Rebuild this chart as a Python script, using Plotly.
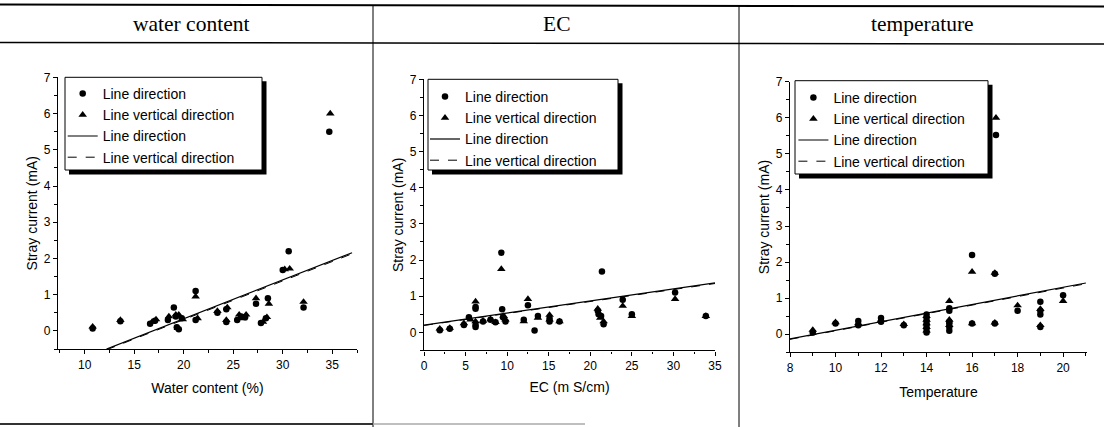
import plotly.graph_objects as go

W, H = 1104, 427

# ---------------- data ----------------
panel_titles = ["water content", "EC", "temperature"]
x_titles = ["Water content (%)", "EC (m S/cm)", "Temperature"]
y_title = "Stray current (mA)"
series_names = ["Line direction", "Line vertical direction"]
fit_names = ["Line direction", "Line vertical direction"]

# Panel 1: water content
wc_line_x = [10.8, 13.6, 16.6, 17.1, 18.4, 19.0, 19.2, 19.3, 19.5, 19.8, 21.2, 21.2, 23.4, 24.3, 24.3,
             25.4, 25.8, 26.2, 27.3, 27.8, 28.3, 28.5, 30.0, 30.6, 32.1, 34.7]
wc_line_y = [0.07, 0.27, 0.20, 0.28, 0.30, 0.65, 0.40, 0.10, 0.05, 0.35, 1.10, 0.30, 0.50, 0.60, 0.25,
             0.30, 0.40, 0.38, 0.75, 0.22, 0.35, 0.90, 1.68, 2.20, 0.65, 5.50]
wc_vert_x = [10.8, 13.6, 16.8, 17.2, 18.5, 19.2, 19.5, 19.4, 19.9, 21.2, 21.4, 23.4, 24.4, 24.3, 25.6,
             26.0, 26.3, 27.3, 28.0, 28.4, 28.6, 30.2, 30.7, 32.1, 34.8]
wc_vert_y = [0.12, 0.30, 0.25, 0.32, 0.40, 0.45, 0.45, 0.08, 0.32, 0.95, 0.35, 0.55, 0.65, 0.30, 0.45,
             0.35, 0.45, 0.90, 0.25, 0.38, 0.75, 1.70, 1.72, 0.80, 6.00]
wc_fit_x = [12.2, 37.0]
wc_fit1_y = [-0.50, 2.16]
wc_fit2_y = [-0.52, 2.13]

# Panel 2: EC
ec_line_x = [1.9, 3.1, 4.8, 5.4, 6.2, 6.2, 6.2, 6.2, 7.1, 8.0, 8.6, 9.3, 9.4, 9.5, 9.8, 12.0, 12.5,
             13.3, 13.7, 15.1, 15.1, 16.3, 20.9, 21.0, 21.3, 21.4, 21.6, 23.9, 25.0, 30.2, 33.9]
ec_line_y = [0.06, 0.10, 0.20, 0.42, 0.70, 0.65, 0.20, 0.15, 0.30, 0.35, 0.28, 2.20, 0.64, 0.42, 0.30,
             0.35, 0.75, 0.05, 0.45, 0.38, 0.30, 0.30, 0.60, 0.50, 0.45, 1.68, 0.22, 0.90, 0.50, 1.10, 0.45]
ec_vert_x = [1.9, 3.1, 4.8, 5.6, 6.2, 6.2, 7.1, 8.0, 8.6, 9.3, 9.6, 9.8, 12.0, 12.5, 13.7, 15.1, 15.1,
             16.3, 20.9, 21.2, 21.6, 23.9, 25.0, 30.2, 33.9]
ec_vert_y = [0.10, 0.12, 0.25, 0.35, 0.85, 0.30, 0.32, 0.36, 0.28, 1.75, 0.45, 0.35, 0.30, 0.92, 0.40,
             0.48, 0.35, 0.30, 0.65, 0.40, 0.30, 0.73, 0.45, 0.92, 0.45]
ec_fit_x = [0.0, 35.0]
ec_fit1_y = [0.20, 1.37]
ec_fit2_y = [0.19, 1.35]

# Panel 3: temperature
t_line_x = [9, 10, 11, 11, 12, 12, 13, 14, 14, 14, 14, 14, 14, 15, 15, 15, 15, 15, 15, 16, 16, 17, 17,
            17.05, 18, 19, 19, 19, 19, 20]
t_line_y = [0.05, 0.30, 0.37, 0.25, 0.45, 0.35, 0.25, 0.05, 0.15, 0.25, 0.35, 0.45, 0.55, 0.72, 0.65,
            0.35, 0.30, 0.20, 0.10, 2.20, 0.30, 1.68, 0.30, 5.52, 0.65, 0.90, 0.65, 0.55, 0.20, 1.08]
t_vert_x = [9, 10, 11, 12, 13, 14, 14, 14, 14, 14, 15, 15, 15, 16, 16, 17, 17, 17.05, 18, 19, 19, 20]
t_vert_y = [0.12, 0.33, 0.30, 0.40, 0.28, 0.10, 0.20, 0.30, 0.40, 0.50, 0.92, 0.40, 0.25, 1.73, 0.30,
            1.70, 0.32, 6.00, 0.80, 0.70, 0.25, 0.92]
t_fit_x = [8.0, 21.0]
t_fit1_y = [-0.13, 1.42]
t_fit2_y = [-0.14, 1.40]

# ---------------- layout helpers ----------------
def px_x(p):
    return p / W

def px_y(p):
    return 1 - p / H

FONT = "Liberation Sans, Arial, sans-serif"
SERIF = "Liberation Serif, Times New Roman, serif"

panels = [
    dict(lx=wc_line_x, ly=wc_line_y, vx=wc_vert_x, vy=wc_vert_y, fx=wc_fit_x, f1=wc_fit1_y, f2=wc_fit2_y,
         xr=[7.3, 37.5], dtick=5, minor=2.5, xd=(58, 357), yd=(77.3, 349.1),
         box=(65, 77.3, 262, 170), legpos=(62.7, 78), standoff=12),
    dict(lx=ec_line_x, ly=ec_line_y, vx=ec_vert_x, vy=ec_vert_y, fx=ec_fit_x, f1=ec_fit1_y, f2=ec_fit2_y,
         xr=[0, 35], dtick=5, minor=2.5, xd=(424, 715), yd=(79.3, 350.4),
         box=(428, 79.3, 618, 170), legpos=(425, 81), standoff=10),
    dict(lx=t_line_x, ly=t_line_y, vx=t_vert_x, vy=t_vert_y, fx=t_fit_x, f1=t_fit1_y, f2=t_fit2_y,
         xr=[8, 21.05], dtick=2, minor=1, xd=(790, 1087), yd=(81.7, 352.3),
         box=(795, 80.7, 988, 174), legpos=(793.4, 82), standoff=13),
]

fig = go.Figure()
shapes = []
annotations = []
layout = {}

for i, p in enumerate(panels):
    n = i + 1
    xa = "x" if n == 1 else f"x{n}"
    ya = "y" if n == 1 else f"y{n}"
    lg = "legend" if n == 1 else f"legend{n}"
    fig.add_trace(go.Scatter(x=p["lx"], y=p["ly"], mode="markers", name=series_names[0],
                             marker=dict(symbol="circle", size=6.5, color="black"),
                             xaxis=xa, yaxis=ya, legend=lg, cliponaxis=False))
    fig.add_trace(go.Scatter(x=p["vx"], y=p["vy"], mode="markers", name=series_names[1],
                             marker=dict(symbol="triangle-up", size=7.5, color="black"),
                             xaxis=xa, yaxis=ya, legend=lg, cliponaxis=False))
    fig.add_trace(go.Scatter(x=p["fx"], y=p["f1"], mode="lines", name=fit_names[0],
                             line=dict(color="black", width=1.2), xaxis=xa, yaxis=ya, legend=lg))
    fig.add_trace(go.Scatter(x=p["fx"], y=p["f2"], mode="lines", name=fit_names[1],
                             line=dict(color="black", width=1, dash="dash"), xaxis=xa, yaxis=ya, legend=lg))
    xkey = "xaxis" if n == 1 else f"xaxis{n}"
    ykey = "yaxis" if n == 1 else f"yaxis{n}"
    layout[xkey] = dict(
        domain=[px_x(p["xd"][0]), px_x(p["xd"][1])], anchor=ya, range=p["xr"], automargin=False,
        tickmode="linear", tick0=0, dtick=p["dtick"], ticks="outside", ticklen=4,
        tickwidth=1, tickcolor="black", showline=True, linecolor="black", linewidth=1.2,
        showgrid=False, zeroline=False, tickfont=dict(size=12, family=FONT, color="black"),
        minor=dict(dtick=p["minor"], ticks="outside", ticklen=2.5, tickcolor="black", showgrid=False),
        title=dict(text=x_titles[i], font=dict(size=14, family=FONT, color="black"),
                   standoff=p["standoff"]),
    )
    layout[ykey] = dict(
        domain=[px_y(p["yd"][1]), px_y(p["yd"][0])], anchor=xa, range=[-0.5, 7], automargin=False,
        tickmode="linear", tick0=0, dtick=1, ticks="outside", ticklen=4, tickwidth=1,
        tickcolor="black", showline=True, linecolor="black", linewidth=1.2, showgrid=False,
        zeroline=False, tickfont=dict(size=12, family=FONT, color="black"),
        minor=dict(dtick=0.5, ticks="outside", ticklen=2.5, tickcolor="black", showgrid=False),
        title=dict(text=y_title, font=dict(size=14, family=FONT, color="black"), standoff=2),
    )
    lx, ly = p["legpos"]
    layout[lg] = dict(
        x=px_x(lx), y=px_y(ly), xanchor="left", yanchor="top", bgcolor="rgba(0,0,0,0)",
        borderwidth=0, font=dict(size=14, family=FONT, color="black"),
        tracegroupgap=0, itemwidth=30,
    )
    # legend frame with drop shadow
    x0, y0, x1, y1 = p["box"]
    shapes.append(dict(type="rect", xref="paper", yref="paper", layer="above",
                       x0=px_x(x0 + 4), x1=px_x(x1 + 4.5), y0=px_y(y1 + 4.5), y1=px_y(y0 + 4),
                       fillcolor="black", line=dict(width=0)))
    shapes.append(dict(type="rect", xref="paper", yref="paper", layer="above",
                       x0=px_x(x0), x1=px_x(x1), y0=px_y(y1), y1=px_y(y0),
                       fillcolor="white", line=dict(color="black", width=1)))

# table frame lines
shapes += [
    dict(type="line", xref="paper", yref="paper", x0=0, x1=1, y0=px_y(4.5), y1=px_y(6.5),
         line=dict(color="black", width=2)),
    dict(type="line", xref="paper", yref="paper", x0=0, x1=1, y0=px_y(42.5), y1=px_y(44),
         line=dict(color="black", width=1.5)),
    dict(type="line", xref="paper", yref="paper", x0=px_x(373), x1=px_x(373), y0=px_y(6), y1=0,
         line=dict(color="black", width=1)),
    dict(type="line", xref="paper", yref="paper", x0=px_x(739), x1=px_x(739), y0=px_y(6), y1=0,
         line=dict(color="black", width=1)),
    dict(type="line", xref="paper", yref="paper", x0=0, x1=px_x(373), y0=px_y(424), y1=px_y(424),
         line=dict(color="#333333", width=2)),
    dict(type="line", xref="paper", yref="paper", x0=px_x(373), x1=px_x(585), y0=px_y(424), y1=px_y(424),
         line=dict(color="#aaaaaa", width=1.5)),
]

for txt, cx in zip(panel_titles, [191, 556, 922]):
    annotations.append(dict(text=txt, x=px_x(cx), y=px_y(24), xref="paper", yref="paper",
                            showarrow=False, xanchor="center", yanchor="middle",
                            font=dict(size=21.5, family=SERIF, color="black")))

fig.update_layout(
    width=W, height=H, margin=dict(l=0, r=0, t=0, b=0, autoexpand=False),
    paper_bgcolor="white", plot_bgcolor="white", showlegend=True,
    font=dict(family=FONT, color="black"),
    shapes=shapes, annotations=annotations, **layout,
)

fig.write_html("out.html")
